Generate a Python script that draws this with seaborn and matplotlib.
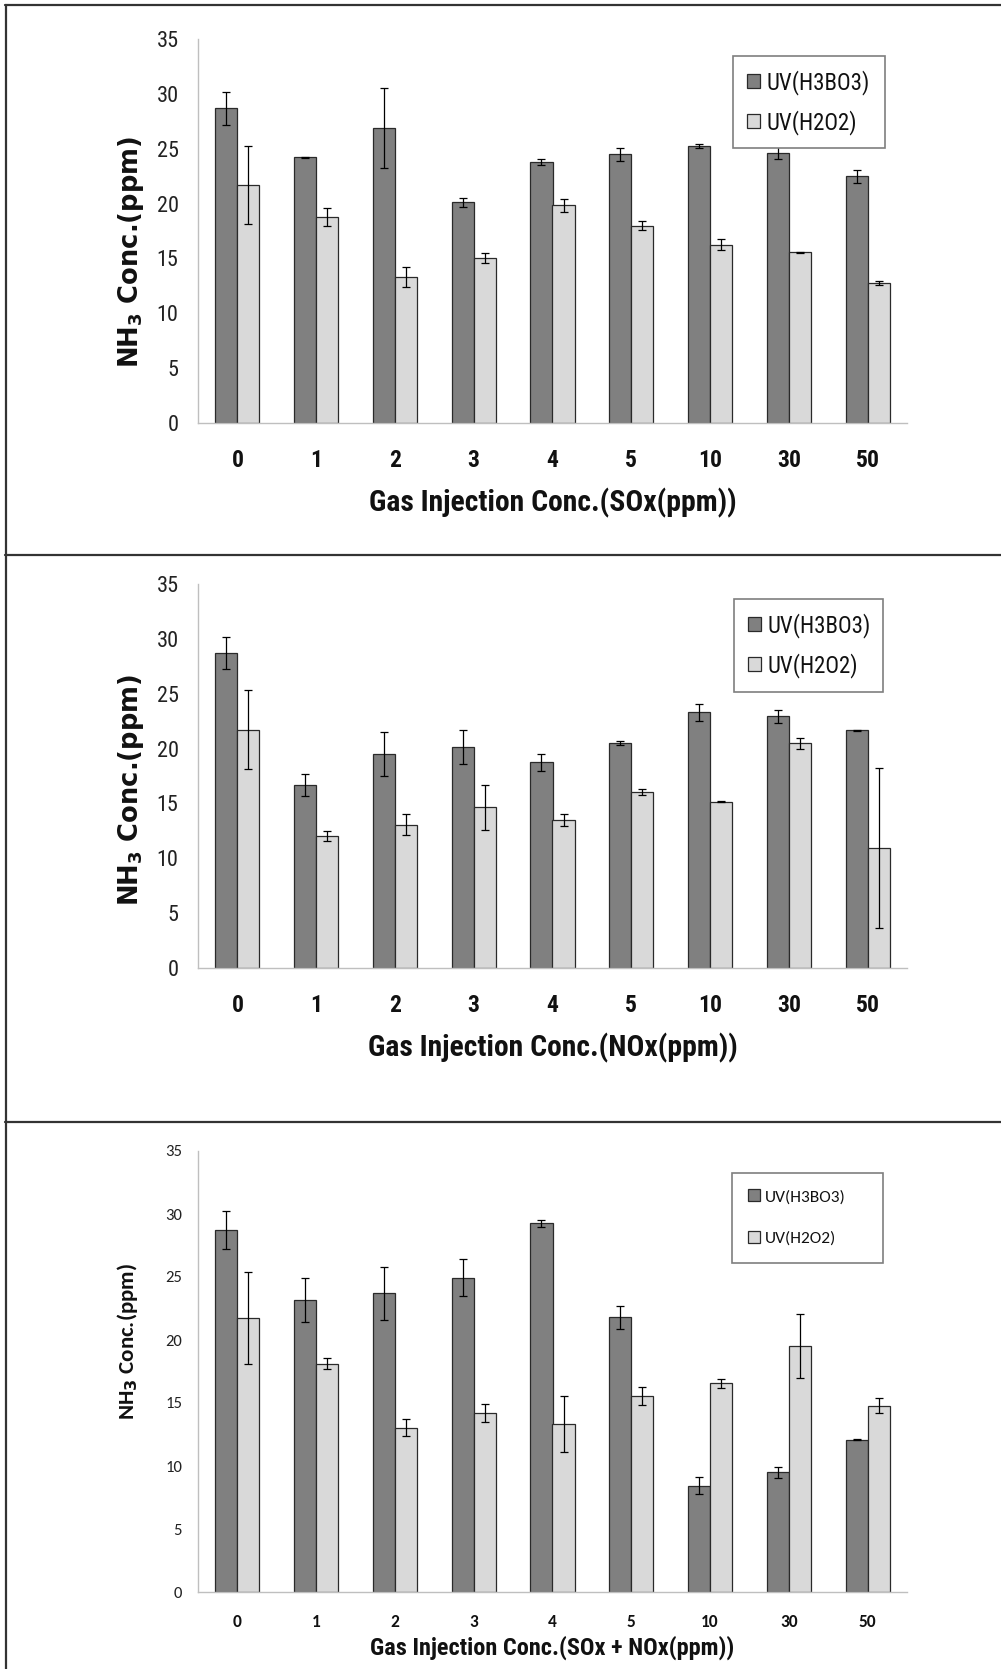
import numpy as np
import pandas as pd
import seaborn as sns
import matplotlib
matplotlib.use("Agg")
import matplotlib.pyplot as plt
from matplotlib.lines import Line2D
import logging
logging.getLogger("matplotlib.font_manager").setLevel(logging.ERROR)

# ---------------- data ----------------
categories = ["0", "1", "2", "3", "4", "5", "10", "30", "50"]
series_names = ["UV(H3BO3)", "UV(H2O2)"]

# Panel 1: SOx
sox_h3bo3 = [28.7, 24.2, 26.9, 20.1, 23.8, 24.5, 25.25, 24.65, 22.5]
sox_h3bo3_err = [1.5, 0.05, 3.65, 0.37, 0.25, 0.6, 0.16, 0.62, 0.6]
sox_h2o2 = [21.7, 18.8, 13.3, 15.05, 19.85, 18.0, 16.25, 15.55, 12.75]
sox_h2o2_err = [3.57, 0.8, 0.93, 0.48, 0.6, 0.45, 0.48, 0.06, 0.18]

# Panel 2: NOx
nox_h3bo3 = [28.7, 16.65, 19.5, 20.15, 18.75, 20.5, 23.3, 22.95, 21.65]
nox_h3bo3_err = [1.47, 1.0, 2.0, 1.57, 0.78, 0.17, 0.76, 0.6, 0.05]
nox_h2o2 = [21.7, 12.0, 13.05, 14.65, 13.5, 16.05, 15.15, 20.5, 10.95]
nox_h2o2_err = [3.6, 0.47, 0.96, 2.03, 0.58, 0.31, 0.05, 0.5, 7.26]

# Panel 3: SOx + NOx
mix_h3bo3 = [28.75, 23.15, 23.7, 24.95, 29.25, 21.8, 8.45, 9.5, 12.1]
mix_h3bo3_err = [1.5, 1.76, 2.08, 1.47, 0.28, 0.92, 0.67, 0.44, 0.05]
mix_h2o2 = [21.75, 18.1, 13.05, 14.2, 13.35, 15.55, 16.55, 19.5, 14.8]
mix_h2o2_err = [3.62, 0.44, 0.67, 0.74, 2.2, 0.74, 0.37, 2.54, 0.56]

y_ticks = [0, 5, 10, 15, 20, 25, 30, 35]
x_titles = ["Gas Injection Conc.(SOx(ppm))",
            "Gas Injection Conc.(NOx(ppm))",
            "Gas Injection Conc.(SOx + NOx(ppm))"]
y_title = r"NH$_\mathbf{3}$ Conc.(ppm)"

# ---------------- style ----------------
sns.set_theme(style="white")
plt.rcParams["font.family"] = ["DejaVu Sans"]
NARROW = ["Roboto Condensed", "Archivo Narrow", "Liberation Sans Narrow", "DejaVu Sans"]
REG = ["Carlito", "Lato", "DejaVu Sans"]

W, H = 1001, 1669
DPI = 100
fig = plt.figure(figsize=(W / DPI, H / DPI), dpi=DPI)
fig.patch.set_facecolor("white")

DARK = "#808080"
LIGHT = "#d9d9d9"
EDGE = "#2a2a2a"


def px_axes(left, right, top, bottom):
    return fig.add_axes([left / W, 1 - bottom / H, (right - left) / W, (bottom - top) / H])


def panel(ax, a, ae, b, be, xtitle, cfg):
    df = pd.DataFrame({
        "conc": categories * 2,
        "val": list(a) + list(b),
        "series": [series_names[0]] * len(a) + [series_names[1]] * len(b),
    })
    sns.barplot(data=df, x="conc", y="val", hue="series", order=categories,
                hue_order=series_names, palette=[DARK, LIGHT], errorbar=None,
                width=0.56, edgecolor=EDGE, linewidth=0.9, saturation=1,
                ax=ax, legend=True)
    for cont, errs in zip(ax.containers, [ae, be]):
        xs = [p.get_x() + p.get_width() / 2 for p in cont.patches]
        hs = [p.get_height() for p in cont.patches]
        ax.errorbar(xs, hs, yerr=errs, fmt="none", ecolor="black",
                    elinewidth=0.9, capsize=2.9, capthick=0.9, zorder=5)
    ax.set_xlim(-0.5, len(categories) - 0.5)
    ax.set_ylim(0, 35)
    ax.set_yticks(y_ticks)
    ax.set_yticklabels([str(t) for t in y_ticks], family=cfg["ytick_family"],
                       fontsize=cfg["ytick_size"], color="#222222")
    ax.set_xticks(range(len(categories)))
    ax.set_xticklabels(categories, family=cfg["xtick_family"],
                       fontsize=cfg["xtick_size"], fontweight="bold", color="#111111")
    ax.tick_params(axis="y", length=0, pad=cfg["ypad"])
    ax.tick_params(axis="x", length=0, pad=cfg["xpad"])
    for s in ["top", "right"]:
        ax.spines[s].set_visible(False)
    for s in ["left", "bottom"]:
        ax.spines[s].set_color("#bfbfbf")
        ax.spines[s].set_linewidth(1.0)
    ax.set_xlabel(xtitle, family=NARROW, fontsize=cfg["xlabel_size"],
                  fontweight="bold", color="#111111")
    ax.xaxis.set_label_coords(0.5, cfg["xlabel_y"])
    ax.xaxis.label.set_va("center")
    ax.set_ylabel(y_title, family=cfg["ylabel_family"], fontsize=cfg["ylabel_size"],
                  fontweight="bold", color="#111111")
    ax.yaxis.set_label_coords(cfg["ylabel_x"], cfg["ylabel_y"])
    ax.yaxis.label.set_va("center")
    ax.yaxis.label.set_ha("center")
    handles, labels = ax.get_legend_handles_labels()
    ax.legend(handles, labels, loc="upper left",
              bbox_to_anchor=cfg["leg_bbox"], bbox_transform=fig.transFigure,
              mode="expand", borderaxespad=0, frameon=True, fancybox=False,
              edgecolor="#7f7f7f", framealpha=1,
              prop={"family": cfg["leg_family"], "size": cfg["leg_size"]},
              handlelength=cfg["hl"], handleheight=cfg["hl"],
              handletextpad=0.3, labelspacing=cfg["ls"], borderpad=cfg["bp"])
    ax.get_legend().get_frame().set_linewidth(1.2)
    for t in ax.get_legend().get_texts():
        t.set_color("#111111")


def leg_bbox(x0, x1, y0, y1):
    return (x0 / W, 1 - y1 / H, (x1 - x0) / W, (y1 - y0) / H)


cfg12 = dict(ytick_family=NARROW, ytick_size=16, xtick_family=NARROW, xtick_size=17,
             ypad=14, xpad=19, xlabel_size=21.3, ylabel_family=["DejaVu Sans"],
             ylabel_size=18.5, leg_family=NARROW, leg_size=16.5, hl=0.58, ls=0.66, bp=0.6)

# Panel 1
ax1 = px_axes(198, 907, 39, 423)
c1 = dict(cfg12, xlabel_y=(423 - 503) / (423 - 39), ylabel_x=(131 - 198) / 709,
          ylabel_y=(423 - 252) / (423 - 39), leg_bbox=leg_bbox(733, 885, 56, 140))
panel(ax1, sox_h3bo3, sox_h3bo3_err, sox_h2o2, sox_h2o2_err, x_titles[0], c1)

# Panel 2
ax2 = px_axes(198, 907, 584, 968)
c2 = dict(cfg12, xlabel_y=(968 - 1048) / (968 - 584), ylabel_x=(131 - 198) / 709,
          ylabel_y=(968 - 790) / (968 - 584), leg_bbox=leg_bbox(734, 883, 599, 684))
panel(ax2, nox_h3bo3, nox_h3bo3_err, nox_h2o2, nox_h2o2_err, x_titles[1], c2)

# Panel 3
ax3 = px_axes(198, 907, 1151, 1592)
c3 = dict(ytick_family=REG, ytick_size=12, xtick_family=REG, xtick_size=12.5,
          ypad=11.5, xpad=16, xlabel_size=17.5, ylabel_family=REG, ylabel_size=16.5,
          xlabel_y=(1592 - 1648) / (1592 - 1151), ylabel_x=(128 - 198) / 709,
          ylabel_y=(1592 - 1341) / (1592 - 1151),
          leg_bbox=leg_bbox(732, 883, 1173, 1258), leg_family=REG, leg_size=12.5,
          hl=0.65, ls=1.55, bp=0.95)
panel(ax3, mix_h3bo3, mix_h3bo3_err, mix_h2o2, mix_h2o2_err, x_titles[2], c3)

# ---------------- panel frames ----------------
def hline(y, x0=5, x1=1001):
    fig.add_artist(Line2D([x0 / W, x1 / W], [1 - y / H, 1 - y / H],
                          transform=fig.transFigure, color="#333333", lw=1.6))


def vline(x, y0, y1):
    fig.add_artist(Line2D([x / W, x / W], [1 - y0 / H, 1 - y1 / H],
                          transform=fig.transFigure, color="#333333", lw=1.6))


hline(5)
hline(555)
hline(1122)
vline(5.5, 5, 1669)

fig.savefig("out.png", dpi=DPI, facecolor="white")
